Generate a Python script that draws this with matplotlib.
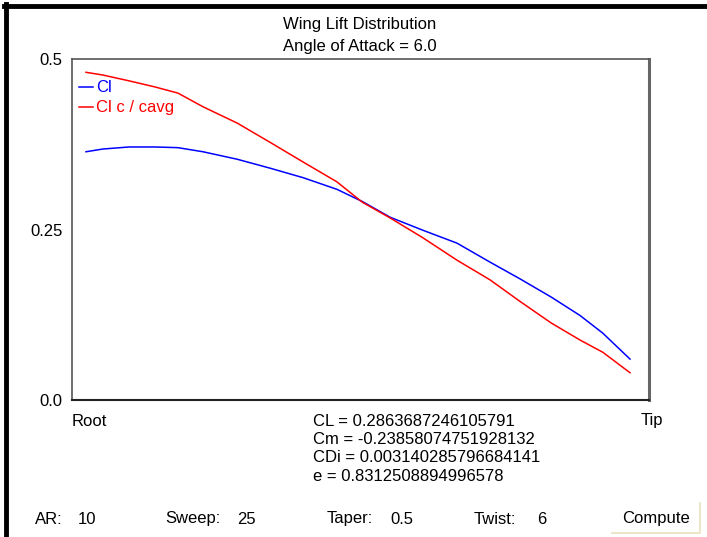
import matplotlib.pyplot as plt
from matplotlib.lines import Line2D

plt.rcParams['font.family'] = ['Liberation Sans', 'DejaVu Sans']

# spanwise stations, root (0) to tip (1)
eta = [0.0, 0.031, 0.079, 0.127, 0.169, 0.215, 0.278, 0.338, 0.399, 0.461, 0.508,
       0.559, 0.619, 0.682, 0.743, 0.797, 0.855, 0.908, 0.950, 1.0]
cl = [0.364, 0.368, 0.371, 0.371, 0.370, 0.364, 0.353, 0.340, 0.326, 0.309, 0.291,
      0.268, 0.249, 0.230, 0.202, 0.178, 0.151, 0.124, 0.098, 0.060]
cl_c_cavg = [0.4805, 0.4765, 0.468, 0.459, 0.450, 0.430, 0.406, 0.378, 0.349, 0.320, 0.290,
             0.267, 0.238, 0.205, 0.176, 0.145, 0.113, 0.088, 0.070, 0.040]

yticks = [0.0, 0.25, 0.5]
ytick_labels = ['0.0', '0.25', '0.5']

title = 'Wing Lift Distribution\nAngle of Attack = 6.0'
results = ['CL = 0.2863687246105791', 'Cm = -0.23858074751928132',
           'CDi = 0.003140285796684141', 'e = 0.8312508894996578']
inputs = [('AR:', '10'), ('Sweep:', '25'), ('Taper:', '0.5'), ('Twist:', '6')]

FS = 12
W, H = 707, 537
fig = plt.figure(figsize=(W / 100, H / 100), dpi=100)
fig.patch.set_facecolor('white')


def fx(px):
    return px / W


def fy(py):
    return 1 - py / H


ax = fig.add_axes([fx(72), fy(400), (649 - 72) / W, (400 - 59) / H])
ax.plot(eta, cl, color='#0000ff', lw=1.1)
ax.plot(eta, cl_c_cavg, color='#ff0000', lw=1.1)
ax.set_xlim(-14 / 544, 563 / 544)
ax.set_ylim(0, 0.5)
ax.set_xticks([])
ax.set_yticks(yticks)
ax.set_yticklabels(ytick_labels, fontsize=FS)
ax.tick_params(axis='y', length=0, pad=7)
for s in ['left', 'top']:
    ax.spines[s].set_color('#555555')
    ax.spines[s].set_linewidth(1.2)
ax.spines['right'].set_color('#666666')
ax.spines['right'].set_linewidth(2.2)
ax.spines['bottom'].set_color('#222222')
ax.spines['bottom'].set_linewidth(1.5)

# legend drawn like the applet
for py, col, lab in [(87, '#0000ff', 'Cl'), (107, '#ff0000', 'Cl c / cavg')]:
    fig.add_artist(Line2D([fx(79), fx(93)], [fy(py), fy(py)], color=col, lw=1.1))
    fig.text(fx(96), fy(py), lab, color=col, fontsize=FS, va='center')

fig.text(fx(360), fy(25), title.split('\n')[0], ha='center', va='center', fontsize=FS)
fig.text(fx(360), fy(46), title.split('\n')[1], ha='center', va='center', fontsize=FS)

fig.text(fx(72), fy(421), 'Root', fontsize=FS, va='center')
fig.text(fx(652), fy(421), 'Tip', fontsize=FS, va='center', ha='center')
for i, r in enumerate(results):
    fig.text(fx(313), fy(421 + 18.5 * i), r, fontsize=FS, va='center')

xs = [(35, 78), (165, 237), (327, 390), (474, 537)]
for (lab, val), (x1, x2) in zip(inputs, xs):
    fig.text(fx(x1), fy(519), lab, fontsize=FS, va='center')
    fig.text(fx(x2), fy(519), val, fontsize=FS, va='center')
fig.text(fx(656), fy(519), 'Compute', fontsize=FS, va='center', ha='center')
fig.add_artist(Line2D([fx(612), fx(700), fx(700)], [fy(533), fy(533), fy(503)],
                      color='#e8e0c0', lw=1.2))

# dark frame on left and top edge
fig.add_artist(Line2D([fx(5.5), fx(5.5)], [0, fy(4)], color='black', lw=3.5))
fig.add_artist(Line2D([fx(4), 1], [fy(5.5), fy(5.5)], color='black', lw=3.5))

fig.savefig('out.png', dpi=100)
